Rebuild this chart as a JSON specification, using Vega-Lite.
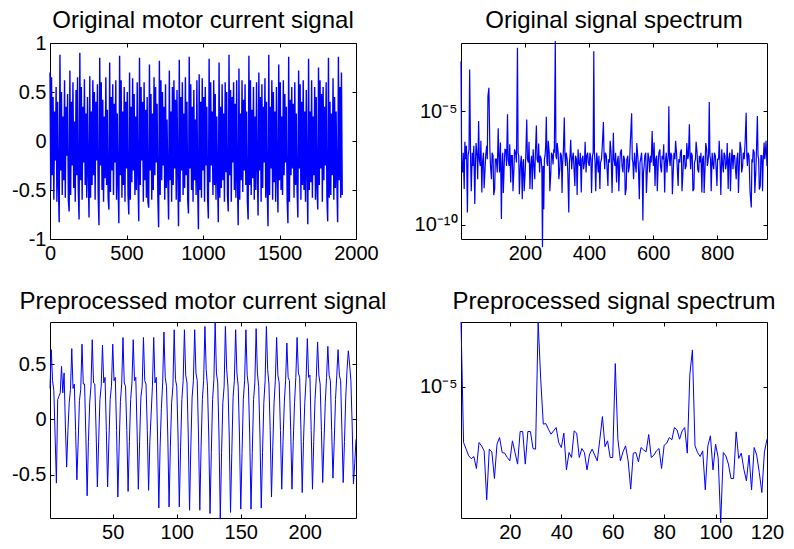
{
"$schema": "https://vega.github.io/schema/vega-lite/v6.json",
"padding": {"left": 11, "top": 8, "right": 5, "bottom": 5},
"background": "white",
"config": {
  "view": {"stroke": "#000000", "strokeWidth": 1},
  "font": "Liberation Sans",
  "axis": {"grid": false, "domain": false, "labelFont": "Liberation Sans", "labelFontSize": 20, "labelColor": "#000000", "tickColor": "#000000", "tickSize": -4, "labelPadding": 8, "title": null, "labelFlush": false, "labelOverlap": false, "labelBound": false},
  "title": {"font": "Liberation Sans", "fontSize": 24, "fontWeight": "normal", "color": "#000000", "frame": "group", "baseline": "alphabetic"},
  "line": {"color": "#0000ff", "strokeWidth": 1, "clip": true}
},
"datasets": {
"tl": [
{"x":0,"y":0.70},{"x":5,"y":-0.50},{"x":10,"y":0.65},{"x":15,"y":-0.35},{"x":20,"y":0.45},{"x":25,"y":-0.60},{"x":30,"y":0.30},{"x":35,"y":-0.20},{"x":40,"y":0.55},{"x":45,"y":-0.62},{"x":50,"y":0.40},{"x":55,"y":-0.45},{"x":60,"y":-0.83},
{"x":65,"y":0.88},{"x":70,"y":-0.30},{"x":75,"y":0.50},{"x":80,"y":-0.55},{"x":85,"y":0.25},{"x":90,"y":-0.40},{"x":95,"y":0.62},{"x":100,"y":-0.58},{"x":105,"y":0.35},{"x":110,"y":-0.15},{"x":115,"y":0.48},{"x":120,"y":-0.60},{"x":125,"y":-0.72},
{"x":130,"y":0.72},{"x":135,"y":-0.55},{"x":140,"y":0.40},{"x":145,"y":-0.25},{"x":150,"y":0.60},{"x":155,"y":-0.48},{"x":160,"y":0.20},{"x":165,"y":-0.62},{"x":170,"y":0.52},{"x":175,"y":-0.35},{"x":180,"y":0.65},{"x":185,"y":-0.50},{"x":190,"y":-0.80},
{"x":195,"y":0.90},{"x":200,"y":-0.40},{"x":205,"y":0.55},{"x":210,"y":-0.60},{"x":215,"y":0.35},{"x":220,"y":-0.22},{"x":225,"y":0.63},{"x":230,"y":-0.45},{"x":235,"y":0.28},{"x":240,"y":-0.58},{"x":245,"y":0.45},{"x":250,"y":-0.30},{"x":255,"y":-0.78},
{"x":260,"y":0.66},{"x":265,"y":-0.58},{"x":270,"y":0.30},{"x":275,"y":-0.45},{"x":280,"y":0.62},{"x":285,"y":-0.35},{"x":290,"y":0.50},{"x":295,"y":-0.60},{"x":300,"y":0.40},{"x":305,"y":-0.20},{"x":310,"y":0.58},{"x":315,"y":-0.55},{"x":320,"y":-0.86},
{"x":325,"y":0.85},{"x":330,"y":-0.25},{"x":335,"y":0.60},{"x":340,"y":-0.50},{"x":345,"y":0.42},{"x":350,"y":-0.62},{"x":355,"y":0.25},{"x":360,"y":-0.38},{"x":365,"y":0.65},{"x":370,"y":-0.45},{"x":375,"y":0.32},{"x":380,"y":-0.58},{"x":385,"y":-0.70},
{"x":390,"y":0.80},{"x":395,"y":-0.52},{"x":400,"y":0.45},{"x":405,"y":-0.30},{"x":410,"y":0.58},{"x":415,"y":-0.55},{"x":420,"y":0.38},{"x":425,"y":-0.22},{"x":430,"y":0.62},{"x":435,"y":-0.60},{"x":440,"y":0.28},{"x":445,"y":-0.42},{"x":450,"y":-0.84},
{"x":455,"y":0.87},{"x":460,"y":-0.35},{"x":465,"y":0.62},{"x":470,"y":-0.58},{"x":475,"y":0.30},{"x":480,"y":-0.45},{"x":485,"y":0.55},{"x":490,"y":-0.62},{"x":495,"y":0.40},{"x":500,"y":-0.28},{"x":505,"y":0.50},{"x":510,"y":-0.55},{"x":515,"y":-0.75},
{"x":520,"y":0.70},{"x":525,"y":-0.60},{"x":530,"y":0.35},{"x":535,"y":-0.42},{"x":540,"y":0.64},{"x":545,"y":-0.30},{"x":550,"y":0.48},{"x":555,"y":-0.55},{"x":560,"y":0.25},{"x":565,"y":-0.50},{"x":570,"y":0.60},{"x":575,"y":-0.35},{"x":580,"y":-0.82},
{"x":585,"y":0.85},{"x":590,"y":-0.45},{"x":595,"y":0.55},{"x":600,"y":-0.20},{"x":605,"y":0.40},{"x":610,"y":-0.62},{"x":615,"y":0.60},{"x":620,"y":-0.40},{"x":625,"y":0.32},{"x":630,"y":-0.58},{"x":635,"y":0.45},{"x":640,"y":-0.62},{"x":645,"y":-0.68},
{"x":650,"y":0.78},{"x":655,"y":-0.30},{"x":660,"y":0.48},{"x":665,"y":-0.60},{"x":670,"y":0.28},{"x":675,"y":-0.50},{"x":680,"y":0.65},{"x":685,"y":-0.35},{"x":690,"y":0.55},{"x":695,"y":-0.22},{"x":700,"y":0.38},{"x":705,"y":-0.58},{"x":710,"y":-0.88},
{"x":715,"y":0.82},{"x":720,"y":-0.55},{"x":725,"y":0.62},{"x":730,"y":-0.40},{"x":735,"y":0.50},{"x":740,"y":-0.25},{"x":745,"y":0.35},{"x":750,"y":-0.60},{"x":755,"y":0.58},{"x":760,"y":-0.48},{"x":765,"y":0.22},{"x":770,"y":-0.40},{"x":775,"y":-0.80},
{"x":780,"y":0.72},{"x":785,"y":-0.40},{"x":790,"y":0.30},{"x":795,"y":-0.62},{"x":800,"y":0.55},{"x":805,"y":-0.45},{"x":810,"y":0.62},{"x":815,"y":-0.28},{"x":820,"y":0.42},{"x":825,"y":-0.60},{"x":830,"y":0.52},{"x":835,"y":-0.30},{"x":840,"y":-0.87},
{"x":845,"y":0.83},{"x":850,"y":-0.62},{"x":855,"y":0.45},{"x":860,"y":-0.30},{"x":865,"y":0.60},{"x":870,"y":-0.55},{"x":875,"y":0.28},{"x":880,"y":-0.48},{"x":885,"y":0.65},{"x":890,"y":-0.35},{"x":895,"y":0.40},{"x":900,"y":-0.60},{"x":905,"y":-0.74},
{"x":910,"y":0.86},{"x":915,"y":-0.28},{"x":920,"y":0.58},{"x":925,"y":-0.50},{"x":930,"y":0.35},{"x":935,"y":-0.62},{"x":940,"y":0.52},{"x":945,"y":-0.40},{"x":950,"y":0.22},{"x":955,"y":-0.55},{"x":960,"y":0.62},{"x":965,"y":-0.45},{"x":970,"y":-0.90},
{"x":975,"y":0.68},{"x":980,"y":-0.50},{"x":985,"y":0.40},{"x":990,"y":-0.58},{"x":995,"y":0.64},{"x":1000,"y":-0.30},{"x":1005,"y":0.45},{"x":1010,"y":-0.62},{"x":1015,"y":0.55},{"x":1020,"y":-0.25},{"x":1025,"y":0.35},{"x":1030,"y":-0.58},{"x":1035,"y":-0.79},
{"x":1040,"y":0.84},{"x":1045,"y":-0.42},{"x":1050,"y":0.60},{"x":1055,"y":-0.25},{"x":1060,"y":0.30},{"x":1065,"y":-0.55},{"x":1070,"y":0.62},{"x":1075,"y":-0.45},{"x":1080,"y":0.48},{"x":1085,"y":-0.60},{"x":1090,"y":0.25},{"x":1095,"y":-0.38},{"x":1100,"y":-0.83},
{"x":1105,"y":0.80},{"x":1110,"y":-0.58},{"x":1115,"y":0.35},{"x":1120,"y":-0.48},{"x":1125,"y":0.58},{"x":1130,"y":-0.40},{"x":1135,"y":0.28},{"x":1140,"y":-0.62},{"x":1145,"y":0.60},{"x":1150,"y":-0.32},{"x":1155,"y":0.50},{"x":1160,"y":-0.55},{"x":1165,"y":-0.72},
{"x":1170,"y":0.88},{"x":1175,"y":-0.35},{"x":1180,"y":0.52},{"x":1185,"y":-0.62},{"x":1190,"y":0.45},{"x":1195,"y":-0.22},{"x":1200,"y":0.60},{"x":1205,"y":-0.50},{"x":1210,"y":0.38},{"x":1215,"y":-0.58},{"x":1220,"y":0.62},{"x":1225,"y":-0.40},{"x":1230,"y":-0.86},
{"x":1235,"y":0.74},{"x":1240,"y":-0.60},{"x":1245,"y":0.28},{"x":1250,"y":-0.40},{"x":1255,"y":0.62},{"x":1260,"y":-0.52},{"x":1265,"y":0.42},{"x":1270,"y":-0.30},{"x":1275,"y":0.58},{"x":1280,"y":-0.45},{"x":1285,"y":0.30},{"x":1290,"y":-0.62},{"x":1295,"y":-0.80},
{"x":1300,"y":0.87},{"x":1305,"y":-0.45},{"x":1310,"y":0.62},{"x":1315,"y":-0.55},{"x":1320,"y":0.32},{"x":1325,"y":-0.38},{"x":1330,"y":0.55},{"x":1335,"y":-0.60},{"x":1340,"y":0.25},{"x":1345,"y":-0.50},{"x":1350,"y":0.60},{"x":1355,"y":-0.28},{"x":1360,"y":-0.76},
{"x":1365,"y":0.70},{"x":1370,"y":-0.30},{"x":1375,"y":0.45},{"x":1380,"y":-0.62},{"x":1385,"y":0.58},{"x":1390,"y":-0.48},{"x":1395,"y":0.35},{"x":1400,"y":-0.22},{"x":1405,"y":0.64},{"x":1410,"y":-0.58},{"x":1415,"y":0.40},{"x":1420,"y":-0.52},{"x":1425,"y":-0.87},
{"x":1430,"y":0.88},{"x":1435,"y":-0.55},{"x":1440,"y":0.35},{"x":1445,"y":-0.28},{"x":1450,"y":0.62},{"x":1455,"y":-0.60},{"x":1460,"y":0.50},{"x":1465,"y":-0.42},{"x":1470,"y":0.30},{"x":1475,"y":-0.62},{"x":1480,"y":0.55},{"x":1485,"y":-0.35},{"x":1490,"y":-0.73},
{"x":1495,"y":0.78},{"x":1500,"y":-0.40},{"x":1505,"y":0.60},{"x":1510,"y":-0.50},{"x":1515,"y":0.25},{"x":1520,"y":-0.55},{"x":1525,"y":0.62},{"x":1530,"y":-0.35},{"x":1535,"y":0.48},{"x":1540,"y":-0.22},{"x":1545,"y":0.35},{"x":1550,"y":-0.60},{"x":1555,"y":-0.84},
{"x":1560,"y":0.86},{"x":1565,"y":-0.62},{"x":1570,"y":0.42},{"x":1575,"y":-0.35},{"x":1580,"y":0.55},{"x":1585,"y":-0.28},{"x":1590,"y":0.38},{"x":1595,"y":-0.58},{"x":1600,"y":0.60},{"x":1605,"y":-0.45},{"x":1610,"y":0.28},{"x":1615,"y":-0.50},{"x":1620,"y":-0.78},
{"x":1625,"y":0.72},{"x":1630,"y":-0.28},{"x":1635,"y":0.58},{"x":1640,"y":-0.60},{"x":1645,"y":0.40},{"x":1650,"y":-0.45},{"x":1655,"y":0.62},{"x":1660,"y":-0.50},{"x":1665,"y":0.30},{"x":1670,"y":-0.62},{"x":1675,"y":0.52},{"x":1680,"y":-0.32},{"x":1685,"y":-0.85},
{"x":1690,"y":0.84},{"x":1695,"y":-0.50},{"x":1700,"y":0.30},{"x":1705,"y":-0.42},{"x":1710,"y":0.62},{"x":1715,"y":-0.58},{"x":1720,"y":0.25},{"x":1725,"y":-0.35},{"x":1730,"y":0.55},{"x":1735,"y":-0.60},{"x":1740,"y":0.45},{"x":1745,"y":-0.48},{"x":1750,"y":-0.70},
{"x":1755,"y":0.75},{"x":1760,"y":-0.45},{"x":1765,"y":0.62},{"x":1770,"y":-0.28},{"x":1775,"y":0.48},{"x":1780,"y":-0.62},{"x":1785,"y":0.55},{"x":1790,"y":-0.40},{"x":1795,"y":0.35},{"x":1800,"y":-0.25},{"x":1805,"y":0.60},{"x":1810,"y":-0.58},{"x":1815,"y":-0.82},
{"x":1820,"y":0.85},{"x":1825,"y":-0.58},{"x":1830,"y":0.40},{"x":1835,"y":-0.55},{"x":1840,"y":0.28},{"x":1845,"y":-0.35},{"x":1850,"y":0.64},{"x":1855,"y":-0.60},{"x":1860,"y":0.45},{"x":1865,"y":-0.48},{"x":1870,"y":0.30},{"x":1875,"y":-0.42},{"x":1880,"y":-0.83},
{"x":1885,"y":0.86},{"x":1890,"y":-0.40},{"x":1895,"y":0.55},{"x":1900,"y":-0.58},{"x":1905,"y":0.70},{"x":1910,"y":-0.55}
],
"tr": [
{"x":1,"y":1.65e-3},{"x":3,"y":6.0e-8},{"x":6,"y":2.0e-8},{"x":8,"y":1.5e-7},{"x":11,"y":3.7e-9},{"x":13,"y":4.5e-7},{"x":16,"y":7.7e-8},{"x":18,"y":3.0e-7},{"x":21,"y":3.4e-10},{"x":23,"y":1.1e-7},{"x":26,"y":2.1e-7},{"x":28,"y":7.1e-4},{"x":31,"y":5.5e-8},{"x":33,"y":3.0e-9},{"x":36,"y":1.5e-7},{"x":38,"y":3.9e-8},{"x":41,"y":3.0e-7},{"x":44,"y":8.0e-10},{"x":46,"y":5.5e-8},{"x":48,"y":4.0e-7},{"x":51,"y":1.1e-7},{"x":53,"y":1.0e-8},{"x":56,"y":3.75e-6},{"x":58,"y":7.7e-8},{"x":61,"y":3.9e-8},{"x":63,"y":5.0e-7},{"x":66,"y":2.6e-9},{"x":68,"y":5.5e-8},{"x":71,"y":1.5e-7},{"x":73,"y":4.0e-9},{"x":76,"y":2.8e-8},{"x":78,"y":1.1e-7},{"x":81,"y":3.0e-7},{"x":83,"y":7.7e-8},{"x":85,"y":4.8e-5},{"x":88,"y":1.1e-4},{"x":91,"y":2.1e-7},{"x":93,"y":3.9e-8},{"x":96,"y":1.0e-8},{"x":98,"y":1.5e-7},{"x":101,"y":1.1e-7},{"x":103,"y":2.0e-9},{"x":106,"y":3.7e-9},{"x":108,"y":7.7e-8},{"x":111,"y":7.7e-8},{"x":114,"y":2.0e-8},{"x":117,"y":1.78e-6},{"x":119,"y":1.1e-7},{"x":121,"y":2.0e-8},{"x":124,"y":4.2e-7},{"x":127,"y":1.75e-10},{"x":129,"y":5.5e-8},{"x":131,"y":1.5e-7},{"x":133,"y":2.5e-9},{"x":136,"y":5.5e-8},{"x":138,"y":2.1e-7},{"x":141,"y":2.0e-7},{"x":143,"y":3.9e-8},{"x":146,"y":7.4e-6},{"x":148,"y":7.7e-8},{"x":151,"y":3.9e-8},{"x":153,"y":3.5e-7},{"x":156,"y":7.2e-9},{"x":158,"y":1.1e-7},{"x":161,"y":1.1e-7},{"x":163,"y":3.0e-9},{"x":166,"y":2.8e-8},{"x":168,"y":2.1e-7},{"x":171,"y":1.5e-7},{"x":174,"y":5.5e-8},{"x":177,"y":6.4e-3},{"x":179,"y":1.5e-7},{"x":181,"y":1.1e-7},{"x":183,"y":2.2e-9},{"x":186,"y":3.9e-8},{"x":189,"y":1.1e-7},{"x":192,"y":1.3e-9},{"x":194,"y":5.5e-8},{"x":196,"y":7.7e-8},{"x":198,"y":3.0e-9},{"x":201,"y":2.0e-8},{"x":203,"y":1.1e-7},{"x":206,"y":4.4e-6},{"x":208,"y":7.7e-8},{"x":211,"y":5.5e-8},{"x":213,"y":4.5e-7},{"x":216,"y":3.7e-9},{"x":218,"y":3.9e-8},{"x":221,"y":1.1e-7},{"x":223,"y":3.5e-9},{"x":226,"y":2.1e-7},{"x":228,"y":5.5e-8},{"x":231,"y":1.0e-8},{"x":233,"y":1.5e-7},{"x":236,"y":2.4e-6},{"x":238,"y":7.7e-8},{"x":241,"y":5.5e-8},{"x":243,"y":3.8e-7},{"x":246,"y":2.0e-8},{"x":248,"y":1.1e-7},{"x":251,"y":7.7e-8},{"x":253,"y":3.0e-8},{"x":255,"y":1.0e-11},{"x":257,"y":3.9e-8},{"x":259,"y":4.8e-10},{"x":261,"y":7.7e-8},{"x":263,"y":1.1e-7},{"x":265,"y":3.0e-7},{"x":267,"y":5.8e-6},{"x":269,"y":5.5e-8},{"x":271,"y":3.9e-8},{"x":273,"y":5.0e-7},{"x":276,"y":1.5e-7},{"x":278,"y":3.0e-9},{"x":281,"y":2.0e-8},{"x":283,"y":1.5e-7},{"x":286,"y":1.1e-7},{"x":288,"y":4.5e-8},{"x":290,"y":2.1e-7},{"x":292,"y":1.5e-7},{"x":295,"y":1.3e-2},{"x":297,"y":1.1e-7},{"x":299,"y":7.7e-8},{"x":301,"y":4.0e-7},{"x":304,"y":1.5e-7},{"x":306,"y":1.0e-8},{"x":309,"y":2.8e-8},{"x":311,"y":1.5e-7},{"x":314,"y":1.1e-7},{"x":316,"y":2.5e-9},{"x":318,"y":5.5e-8},{"x":320,"y":1.5e-7},{"x":323,"y":5.3e-6},{"x":325,"y":1.1e-7},{"x":327,"y":3.9e-8},{"x":329,"y":1.5e-7},{"x":332,"y":7.7e-8},{"x":334,"y":2.0e-8},{"x":337,"y":3.4e-10},{"x":339,"y":5.5e-8},{"x":341,"y":1.1e-7},{"x":343,"y":5.5e-7},{"x":346,"y":2.8e-8},{"x":348,"y":7.7e-8},{"x":351,"y":1.5e-7},{"x":353,"y":3.9e-8},{"x":356,"y":5.1e-9},{"x":358,"y":1.1e-7},{"x":361,"y":7.7e-8},{"x":363,"y":2.0e-9},{"x":366,"y":2.1e-7},{"x":368,"y":5.5e-8},{"x":371,"y":3.9e-8},{"x":373,"y":1.5e-7},{"x":376,"y":2.6e-9},{"x":378,"y":7.7e-8},{"x":381,"y":1.1e-7},{"x":383,"y":2.8e-8},{"x":386,"y":5.5e-8},{"x":388,"y":4.5e-7},{"x":391,"y":2.0e-8},{"x":393,"y":1.1e-7},{"x":396,"y":1.5e-7},{"x":398,"y":5.5e-8},{"x":401,"y":3.9e-8},{"x":403,"y":1.5e-7},{"x":406,"y":7.7e-8},{"x":408,"y":2.5e-9},{"x":411,"y":1.1e-7},{"x":413,"y":1.5e-7},{"x":415,"y":4.5e-3},{"x":417,"y":1.5e-7},{"x":419,"y":5.5e-8},{"x":421,"y":3.0e-9},{"x":424,"y":1.5e-7},{"x":426,"y":7.7e-8},{"x":429,"y":2.0e-8},{"x":431,"y":1.1e-7},{"x":434,"y":3.7e-9},{"x":436,"y":5.5e-8},{"x":439,"y":7.7e-8},{"x":442,"y":4.0e-7},{"x":445,"y":3.4e-6},{"x":447,"y":1.1e-7},{"x":449,"y":2.8e-8},{"x":451,"y":1.5e-7},{"x":454,"y":1.1e-7},{"x":456,"y":3.9e-8},{"x":459,"y":5.1e-9},{"x":461,"y":7.7e-8},{"x":464,"y":5.5e-8},{"x":466,"y":5.0e-7},{"x":469,"y":1.5e-7},{"x":472,"y":2.5e-9},{"x":476,"y":1.15e-6},{"x":478,"y":7.7e-8},{"x":481,"y":3.9e-8},{"x":483,"y":1.5e-7},{"x":486,"y":7.2e-9},{"x":488,"y":5.5e-8},{"x":491,"y":1.1e-7},{"x":493,"y":3.0e-9},{"x":496,"y":5.5e-8},{"x":498,"y":1.5e-7},{"x":501,"y":2.1e-7},{"x":503,"y":3.9e-8},{"x":506,"y":2.0e-8},{"x":508,"y":1.1e-7},{"x":511,"y":7.7e-8},{"x":513,"y":2.0e-9},{"x":516,"y":3.7e-9},{"x":518,"y":7.7e-8},{"x":521,"y":1.1e-7},{"x":523,"y":2.0e-8},{"x":526,"y":3.9e-8},{"x":529,"y":4.5e-7},{"x":533,"y":8.2e-6},{"x":535,"y":7.7e-8},{"x":537,"y":5.5e-8},{"x":539,"y":1.0e-8},{"x":542,"y":1.5e-7},{"x":544,"y":5.5e-8},{"x":547,"y":2.0e-8},{"x":549,"y":4.0e-7},{"x":552,"y":1.1e-7},{"x":554,"y":3.9e-8},{"x":557,"y":1.3e-9},{"x":559,"y":5.5e-8},{"x":561,"y":7.7e-8},{"x":564,"y":1.5e-7},{"x":566,"y":2.8e-8},{"x":568,"y":1.5e-10},{"x":570,"y":2.0e-8},{"x":572,"y":3.9e-8},{"x":574,"y":1.1e-7},{"x":577,"y":1.5e-7},{"x":579,"y":2.5e-9},{"x":582,"y":2.8e-8},{"x":584,"y":1.5e-7},{"x":587,"y":7.7e-8},{"x":589,"y":2.0e-8},{"x":592,"y":1.1e-7},{"x":594,"y":5.5e-8},{"x":597,"y":1.36e-6},{"x":599,"y":1.1e-7},{"x":601,"y":3.9e-8},{"x":603,"y":4.2e-7},{"x":606,"y":5.1e-9},{"x":608,"y":7.7e-8},{"x":611,"y":1.1e-7},{"x":613,"y":3.0e-9},{"x":616,"y":5.5e-8},{"x":618,"y":1.5e-7},{"x":621,"y":2.1e-7},{"x":623,"y":3.9e-8},{"x":626,"y":2.0e-8},{"x":628,"y":1.1e-7},{"x":631,"y":7.7e-8},{"x":633,"y":3.5e-7},{"x":636,"y":2.6e-9},{"x":638,"y":5.5e-8},{"x":641,"y":1.5e-7},{"x":643,"y":2.0e-8},{"x":645,"y":5.5e-8},{"x":647,"y":1.1e-7},{"x":649,"y":1.7e-5},{"x":651,"y":7.7e-8},{"x":653,"y":3.9e-8},{"x":655,"y":1.5e-7},{"x":658,"y":1.1e-7},{"x":660,"y":2.2e-9},{"x":663,"y":2.8e-8},{"x":665,"y":1.5e-7},{"x":668,"y":7.7e-8},{"x":670,"y":5.0e-7},{"x":673,"y":1.5e-7},{"x":675,"y":3.9e-8},{"x":678,"y":5.1e-9},{"x":680,"y":7.7e-8},{"x":683,"y":5.5e-8},{"x":685,"y":1.5e-7},{"x":688,"y":2.1e-7},{"x":690,"y":3.0e-9},{"x":693,"y":2.0e-8},{"x":695,"y":1.1e-7},{"x":698,"y":1.1e-7},{"x":700,"y":2.8e-8},{"x":703,"y":3.9e-8},{"x":705,"y":4.0e-7},{"x":708,"y":7.7e-8},{"x":710,"y":1.1e-7},{"x":713,"y":2.7e-6},{"x":715,"y":1.1e-7},{"x":717,"y":2.8e-8},{"x":719,"y":1.5e-7},{"x":722,"y":1.1e-7},{"x":724,"y":3.0e-9},{"x":727,"y":3.7e-9},{"x":729,"y":5.5e-8},{"x":732,"y":7.7e-8},{"x":734,"y":4.5e-7},{"x":737,"y":1.5e-7},{"x":739,"y":2.8e-8},{"x":742,"y":2.0e-8},{"x":744,"y":1.1e-7},{"x":747,"y":5.5e-8},{"x":749,"y":1.5e-7},{"x":752,"y":2.6e-9},{"x":754,"y":7.7e-8},{"x":757,"y":1.1e-7},{"x":759,"y":2.5e-9},{"x":762,"y":3.9e-8},{"x":764,"y":4.0e-7},{"x":767,"y":2.1e-7},{"x":769,"y":3.9e-8},{"x":771,"y":5.5e-8},{"x":773,"y":1.5e-7},{"x":775,"y":2.6e-5},{"x":777,"y":1.1e-7},{"x":779,"y":7.7e-8},{"x":781,"y":3.0e-9},{"x":784,"y":1.5e-7},{"x":786,"y":5.5e-8},{"x":789,"y":2.8e-8},{"x":791,"y":1.5e-7},{"x":794,"y":1.1e-7},{"x":796,"y":3.9e-8},{"x":799,"y":5.1e-9},{"x":801,"y":7.7e-8},{"x":804,"y":7.7e-8},{"x":806,"y":5.0e-7},{"x":809,"y":3.9e-8},{"x":811,"y":2.0e-9},{"x":814,"y":2.1e-7},{"x":816,"y":5.5e-8},{"x":819,"y":2.0e-8},{"x":821,"y":1.5e-7},{"x":824,"y":1.1e-7},{"x":826,"y":2.8e-8},{"x":829,"y":5.5e-8},{"x":831,"y":4.0e-7},{"x":834,"y":3.7e-9},{"x":836,"y":7.7e-8},{"x":839,"y":1.5e-7},{"x":841,"y":3.0e-9},{"x":844,"y":7.7e-8},{"x":846,"y":2.1e-7},{"x":849,"y":2.8e-8},{"x":851,"y":1.1e-7},{"x":854,"y":1.1e-7},{"x":856,"y":3.9e-8},{"x":859,"y":1.0e-8},{"x":861,"y":7.7e-8},{"x":864,"y":1.5e-7},{"x":866,"y":2.5e-9},{"x":869,"y":5.5e-8},{"x":871,"y":4.5e-7},{"x":874,"y":2.1e-7},{"x":876,"y":2.0e-8},{"x":879,"y":3.9e-8},{"x":881,"y":1.5e-7},{"x":884,"y":7.7e-8},{"x":887,"y":5.0e-7},{"x":890,"y":8.7e-6},{"x":892,"y":1.1e-7},{"x":894,"y":3.9e-8},{"x":896,"y":1.5e-7},{"x":899,"y":1.1e-7},{"x":902,"y":3.0e-9},{"x":906,"y":5.7e-10},{"x":908,"y":7.7e-8},{"x":910,"y":5.5e-8},{"x":912,"y":2.1e-7},{"x":915,"y":1.5e-7},{"x":917,"y":2.5e-9},{"x":920,"y":2.0e-8},{"x":922,"y":1.5e-7},{"x":925,"y":6.2e-6},{"x":927,"y":1.1e-7},{"x":929,"y":7.7e-8},{"x":931,"y":3.5e-9},{"x":934,"y":5.1e-9},{"x":936,"y":1.1e-7},{"x":939,"y":1.1e-7},{"x":941,"y":3.0e-9},{"x":943,"y":5.5e-8},{"x":946,"y":4.2e-7},{"x":948,"y":7.7e-8},{"x":950,"y":1.5e-7},{"x":952,"y":5.0e-7},{"x":955,"y":3.9e-8}
],
"bl": [
{"x":1,"y":0.28},{"x":2,"y":0.63},{"x":3,"y":0.35},{"x":4,"y":0.26},{"x":5,"y":-0.15},{"x":6,"y":-0.575},{"x":7,"y":0.18},{"x":8,"y":0.21},{"x":9,"y":0.24},{"x":10,"y":0.48},
{"x":11,"y":0.24},{"x":12,"y":0.42},{"x":13,"y":-0.05},{"x":14,"y":-0.43},{"x":15,"y":-0.1},{"x":16,"y":0.15},{"x":17,"y":0.27},{"x":18,"y":0.64},{"x":19,"y":0.28},{"x":20,"y":0.32},
{"x":21,"y":-0.1},{"x":22,"y":-0.545},{"x":23,"y":-0.2},{"x":24,"y":0.17},{"x":25,"y":0.27},{"x":26,"y":0.68},{"x":27,"y":0.32},{"x":28,"y":0.32},{"x":29,"y":-0.15},{"x":30,"y":-0.69},
{"x":31,"y":-0.2},{"x":32,"y":0.15},{"x":33,"y":0.3},{"x":34,"y":0.72},{"x":35,"y":0.33},{"x":36,"y":0.32},{"x":37,"y":-0.1},{"x":38,"y":-0.61},{"x":39,"y":-0.2},{"x":40,"y":0.18},
{"x":41,"y":0.3},{"x":42,"y":0.67},{"x":43,"y":0.33},{"x":44,"y":0.38},{"x":45,"y":-0.1},{"x":46,"y":-0.61},{"x":47,"y":-0.2},{"x":48,"y":0.18},{"x":49,"y":0.3},{"x":50,"y":0.68},
{"x":51,"y":0.35},{"x":52,"y":0.38},{"x":53,"y":-0.1},{"x":54,"y":-0.70},{"x":55,"y":-0.25},{"x":56,"y":0.16},{"x":57,"y":0.32},{"x":58,"y":0.74},{"x":59,"y":0.33},{"x":60,"y":0.3},
{"x":61,"y":-0.1},{"x":62,"y":-0.65},{"x":63,"y":-0.2},{"x":64,"y":0.18},{"x":65,"y":0.33},{"x":66,"y":0.72},{"x":67,"y":0.35},{"x":68,"y":0.38},{"x":69,"y":-0.1},{"x":70,"y":-0.63},
{"x":71,"y":-0.2},{"x":72,"y":0.2},{"x":73,"y":0.3},{"x":74,"y":0.74},{"x":75,"y":0.35},{"x":76,"y":0.32},{"x":77,"y":-0.1},{"x":78,"y":-0.64},{"x":79,"y":-0.2},{"x":80,"y":0.05},
{"x":81,"y":0.3},{"x":82,"y":0.74},{"x":83,"y":0.33},{"x":84,"y":0.38},{"x":85,"y":-0.15},{"x":86,"y":-0.80},{"x":87,"y":-0.25},{"x":88,"y":0.1},{"x":89,"y":0.33},{"x":90,"y":0.79},
{"x":91,"y":0.38},{"x":92,"y":0.3},{"x":93,"y":-0.15},{"x":94,"y":-0.79},{"x":95,"y":-0.25},{"x":96,"y":0.15},{"x":97,"y":0.3},{"x":98,"y":0.81},{"x":99,"y":0.36},{"x":100,"y":0.3},
{"x":101,"y":-0.15},{"x":102,"y":-0.79},{"x":103,"y":-0.25},{"x":104,"y":0.18},{"x":105,"y":0.35},{"x":106,"y":0.81},{"x":107,"y":0.4},{"x":108,"y":0.33},{"x":109,"y":-0.15},{"x":110,"y":-0.82},
{"x":111,"y":-0.25},{"x":112,"y":0.2},{"x":113,"y":0.35},{"x":114,"y":0.81},{"x":115,"y":0.42},{"x":116,"y":0.35},{"x":117,"y":-0.15},{"x":118,"y":-0.82},{"x":119,"y":-0.25},{"x":120,"y":0.18},
{"x":121,"y":0.35},{"x":122,"y":0.84},{"x":123,"y":0.45},{"x":124,"y":0.3},{"x":125,"y":-0.15},{"x":126,"y":-0.85},{"x":127,"y":-0.3},{"x":128,"y":0.18},{"x":129,"y":0.36},{"x":130,"y":0.88},
{"x":131,"y":0.42},{"x":132,"y":0.33},{"x":133,"y":-0.15},{"x":134,"y":-0.9},{"x":135,"y":-0.3},{"x":136,"y":0.15},{"x":137,"y":0.3},{"x":138,"y":0.84},{"x":139,"y":0.45},{"x":140,"y":0.3},
{"x":141,"y":-0.15},{"x":142,"y":-0.84},{"x":143,"y":-0.3},{"x":144,"y":0.2},{"x":145,"y":0.35},{"x":146,"y":0.81},{"x":147,"y":0.42},{"x":148,"y":0.3},{"x":149,"y":-0.15},{"x":150,"y":-0.81},
{"x":151,"y":-0.3},{"x":152,"y":0.18},{"x":153,"y":0.35},{"x":154,"y":0.81},{"x":155,"y":0.4},{"x":156,"y":0.3},{"x":157,"y":-0.15},{"x":158,"y":-0.81},{"x":159,"y":-0.3},{"x":160,"y":0.18},
{"x":161,"y":0.33},{"x":162,"y":0.82},{"x":163,"y":0.42},{"x":164,"y":0.3},{"x":165,"y":-0.15},{"x":166,"y":-0.80},{"x":167,"y":-0.3},{"x":168,"y":0.15},{"x":169,"y":0.35},{"x":170,"y":0.84},
{"x":171,"y":0.45},{"x":172,"y":0.32},{"x":173,"y":-0.1},{"x":174,"y":-0.70},{"x":175,"y":-0.25},{"x":176,"y":0.15},{"x":177,"y":0.35},{"x":178,"y":0.74},{"x":179,"y":0.4},{"x":180,"y":0.33},
{"x":181,"y":-0.1},{"x":182,"y":-0.63},{"x":183,"y":-0.2},{"x":184,"y":0.15},{"x":185,"y":0.35},{"x":186,"y":0.69},{"x":187,"y":0.38},{"x":188,"y":0.35},{"x":189,"y":-0.1},{"x":190,"y":-0.63},
{"x":191,"y":-0.2},{"x":192,"y":0.15},{"x":193,"y":0.38},{"x":194,"y":0.74},{"x":195,"y":0.42},{"x":196,"y":0.38},{"x":197,"y":-0.1},{"x":198,"y":-0.66},{"x":199,"y":-0.2},{"x":200,"y":0.15},
{"x":201,"y":0.36},{"x":202,"y":0.73},{"x":203,"y":0.38},{"x":204,"y":0.4},{"x":205,"y":-0.1},{"x":206,"y":-0.63},{"x":207,"y":-0.2},{"x":208,"y":0.18},{"x":209,"y":0.38},{"x":210,"y":0.70},
{"x":211,"y":0.4},{"x":212,"y":0.32},{"x":213,"y":-0.1},{"x":214,"y":-0.57},{"x":215,"y":-0.2},{"x":216,"y":0.15},{"x":217,"y":0.38},{"x":218,"y":0.66},{"x":219,"y":0.4},{"x":220,"y":0.35},
{"x":221,"y":-0.1},{"x":222,"y":-0.53},{"x":223,"y":-0.2},{"x":224,"y":0.18},{"x":225,"y":0.4},{"x":226,"y":0.63},{"x":227,"y":0.4},{"x":228,"y":0.35},{"x":229,"y":-0.1},{"x":230,"y":-0.57},
{"x":231,"y":-0.2},{"x":232,"y":0.2},{"x":233,"y":0.45},{"x":234,"y":0.62},{"x":235,"y":0.5},{"x":236,"y":0.35},{"x":237,"y":-0.05},{"x":238,"y":-0.58},{"x":239,"y":-0.4},{"x":240,"y":-0.18}
],
"br": [
{"x":1,"y":4.2e-4},{"x":2,"y":4.06e-7},{"x":3,"y":2.77e-7},{"x":4,"y":1.88e-7},{"x":5,"y":1.6e-7},{"x":6,"y":1.81e-7},{"x":7,"y":9.08e-8},{"x":8,"y":4.06e-7},{"x":9,"y":3.35e-7},{"x":10,"y":2.51e-7},
{"x":11,"y":1.5e-8},{"x":12,"y":2.77e-7},{"x":13,"y":2.37e-7},{"x":14,"y":5.11e-8},{"x":15,"y":3.69e-7},{"x":16,"y":5.41e-7},{"x":17,"y":2.28e-7},{"x":18,"y":2.2e-7},{"x":19,"y":1.71e-7},{"x":20,"y":1.41e-7},
{"x":21,"y":4.47e-7},{"x":22,"y":2.28e-7},{"x":23,"y":1.17e-7},{"x":24,"y":7.64e-7},{"x":25,"y":7.64e-7},{"x":26,"y":1.17e-7},{"x":27,"y":7.64e-7},{"x":28,"y":7.64e-7},{"x":29,"y":2.87e-7},{"x":30,"y":2.77e-7},
{"x":31,"y":4.2e-4},{"x":32,"y":1.56e-5},{"x":33,"y":1.17e-6},{"x":34,"y":1.21e-6},{"x":35,"y":8.74e-7},{"x":36,"y":6.56e-7},{"x":37,"y":7.94e-7},{"x":38,"y":9.62e-7},{"x":39,"y":4.06e-7},{"x":40,"y":3.04e-7},
{"x":41,"y":6.95e-7},{"x":42,"y":8.41e-8},{"x":43,"y":2.28e-7},{"x":44,"y":1.71e-7},{"x":45,"y":7.94e-7},{"x":46,"y":6.95e-7},{"x":47,"y":1.71e-7},{"x":48,"y":2.87e-7},{"x":49,"y":2.28e-7},{"x":50,"y":8.41e-8},
{"x":51,"y":2.07e-7},{"x":52,"y":2.77e-7},{"x":53,"y":1.96e-7},{"x":54,"y":1.41e-7},{"x":55,"y":4.9e-7},{"x":56,"y":1.81e-6},{"x":57,"y":3.22e-7},{"x":58,"y":4.47e-7},{"x":59,"y":1.71e-7},{"x":60,"y":1.71e-7},
{"x":61,"y":3.83e-5},{"x":62,"y":4.92e-7},{"x":63,"y":1.41e-7},{"x":64,"y":2.37e-7},{"x":65,"y":3.35e-7},{"x":66,"y":1.41e-7},{"x":67,"y":2.77e-8},{"x":68,"y":2.2e-7},{"x":69,"y":2.28e-7},{"x":70,"y":1.33e-7},
{"x":71,"y":3.04e-7},{"x":72,"y":2.66e-7},{"x":73,"y":2.37e-7},{"x":74,"y":6.43e-7},{"x":75,"y":1.71e-7},{"x":76,"y":1.96e-7},{"x":77,"y":2.51e-7},{"x":78,"y":2.87e-7},{"x":79,"y":9.08e-8},{"x":80,"y":3.48e-7},
{"x":81,"y":3.91e-7},{"x":82,"y":5.41e-7},{"x":83,"y":4.73e-7},{"x":84,"y":9.62e-7},{"x":85,"y":8.41e-7},{"x":86,"y":4.92e-7},{"x":87,"y":7.94e-7},{"x":88,"y":9.62e-7},{"x":89,"y":2.2e-7},{"x":90,"y":2.07e-5},
{"x":91,"y":8.41e-5},{"x":92,"y":3.35e-7},{"x":93,"y":2.28e-7},{"x":94,"y":1.81e-7},{"x":95,"y":2.51e-7},{"x":96,"y":2.66e-8},{"x":97,"y":3.35e-7},{"x":98,"y":5.96e-7},{"x":99,"y":8.41e-8},{"x":100,"y":3.69e-7},
{"x":101,"y":1.71e-7},{"x":102,"y":4.0e-9},{"x":103,"y":2.28e-7},{"x":104,"y":1.88e-7},{"x":105,"y":1.17e-7},{"x":106,"y":5.11e-8},{"x":107,"y":5.11e-8},{"x":108,"y":7.5e-7},{"x":109,"y":1.62e-7},{"x":110,"y":2.2e-7},
{"x":111,"y":8.74e-8},{"x":112,"y":4.47e-8},{"x":113,"y":1.96e-7},{"x":114,"y":2.66e-8},{"x":115,"y":3.04e-7},{"x":116,"y":1.96e-7},{"x":117,"y":7.21e-8},{"x":118,"y":2.28e-8},{"x":119,"y":2.37e-7},{"x":120,"y":4.92e-7}
]
},
"concat": [
    {"title": {"text": "Original motor current signal", "offset": 0}, "width": 306, "height": 196, "data": {"name": "tl"},
     "layer": [
       {"mark": {"type": "line", "strokeWidth": 1.4},
        "encoding": {
          "x": {"field": "x", "type": "quantitative", "scale": {"domain": [0, 2000], "nice": false, "zero": false}, "axis": {"values": [0, 500, 1000, 1500, 2000], "labelExpr": "'' + datum.value"}},
          "y": {"field": "y", "type": "quantitative", "scale": {"domain": [-1, 1], "nice": false, "zero": false}, "axis": {"values": [-1, -0.5, 0, 0.5, 1], "labelExpr": "'' + datum.value"}}
        }},
       {"mark": {"type": "line", "strokeOpacity": 0},
        "encoding": {
          "x": {"field": "x", "type": "quantitative", "axis": {"orient": "top", "values": [0, 500, 1000, 1500, 2000], "labels": false}},
          "y": {"field": "y", "type": "quantitative", "axis": {"orient": "right", "values": [-1, -0.5, 0, 0.5, 1], "labels": false}}
        }}
     ],
     "resolve": {"axis": {"x": "independent", "y": "independent"}}},
    {"title": {"text": "Original signal spectrum", "offset": 6}, "width": 306, "height": 196, "data": {"name": "tr"},
     "layer": [
       {"mark": {"type": "line", "strokeWidth": 1.2},
        "encoding": {
          "x": {"field": "x", "type": "quantitative", "scale": {"domain": [1, 955], "nice": false, "zero": false}, "axis": {"values": [200, 400, 600, 800], "labelExpr": "'' + datum.value"}},
          "y": {"field": "y", "type": "quantitative", "scale": {"type": "log", "domain": [2.3e-11, 1.05e-2], "nice": false}, "axis": {"values": [1e-10, 1e-5], "labelExpr": "datum.value > 1e-7 ? '10⁻⁵' : '10⁻¹⁰'"}}
        }},
       {"mark": {"type": "line", "strokeOpacity": 0},
        "encoding": {
          "x": {"field": "x", "type": "quantitative", "axis": {"orient": "top", "values": [200, 400, 600, 800], "labels": false}},
          "y": {"field": "y", "type": "quantitative", "axis": {"orient": "right", "values": [1e-10, 1e-5], "labels": false}}
        }}
     ],
     "resolve": {"axis": {"x": "independent", "y": "independent"}}},
    {"title": {"text": "Preprocessed motor current signal", "offset": 6}, "width": 306, "height": 196, "data": {"name": "bl"},
     "layer": [
       {"mark": {"type": "line"},
        "encoding": {
          "x": {"field": "x", "type": "quantitative", "scale": {"domain": [1, 240], "nice": false, "zero": false}, "axis": {"values": [50, 100, 150, 200], "labelExpr": "'' + datum.value"}},
          "y": {"field": "y", "type": "quantitative", "scale": {"domain": [-0.89, 0.88], "nice": false, "zero": false}, "axis": {"values": [-0.5, 0, 0.5], "labelExpr": "'' + datum.value"}}
        }},
       {"mark": {"type": "line", "strokeOpacity": 0},
        "encoding": {
          "x": {"field": "x", "type": "quantitative", "axis": {"orient": "top", "values": [50, 100, 150, 200], "labels": false}},
          "y": {"field": "y", "type": "quantitative", "axis": {"orient": "right", "values": [-0.5, 0, 0.5], "labels": false}}
        }}
     ],
     "resolve": {"axis": {"x": "independent", "y": "independent"}}},
    {"title": {"text": "Preprocessed signal spectrum", "offset": 6}, "width": 306, "height": 196, "data": {"name": "br"},
     "layer": [
       {"mark": {"type": "line"},
        "encoding": {
          "x": {"field": "x", "type": "quantitative", "scale": {"domain": [1, 120], "nice": false, "zero": false}, "axis": {"values": [20, 40, 60, 80, 100, 120], "labelExpr": "'' + datum.value"}},
          "y": {"field": "y", "type": "quantitative", "scale": {"type": "log", "domain": [5.25e-9, 4.2e-4], "nice": false}, "axis": {"values": [1e-5], "labelExpr": "'10⁻⁵'"}}
        }},
       {"mark": {"type": "line", "strokeOpacity": 0},
        "encoding": {
          "x": {"field": "x", "type": "quantitative", "axis": {"orient": "top", "values": [20, 40, 60, 80, 100, 120], "labels": false}},
          "y": {"field": "y", "type": "quantitative", "axis": {"orient": "right", "values": [1e-5], "labels": false}}
        }}
     ],
     "resolve": {"axis": {"x": "independent", "y": "independent"}}}
],
"columns": 2,
"spacing": {"row": 83, "column": 105},
"bounds": "flush"
}
